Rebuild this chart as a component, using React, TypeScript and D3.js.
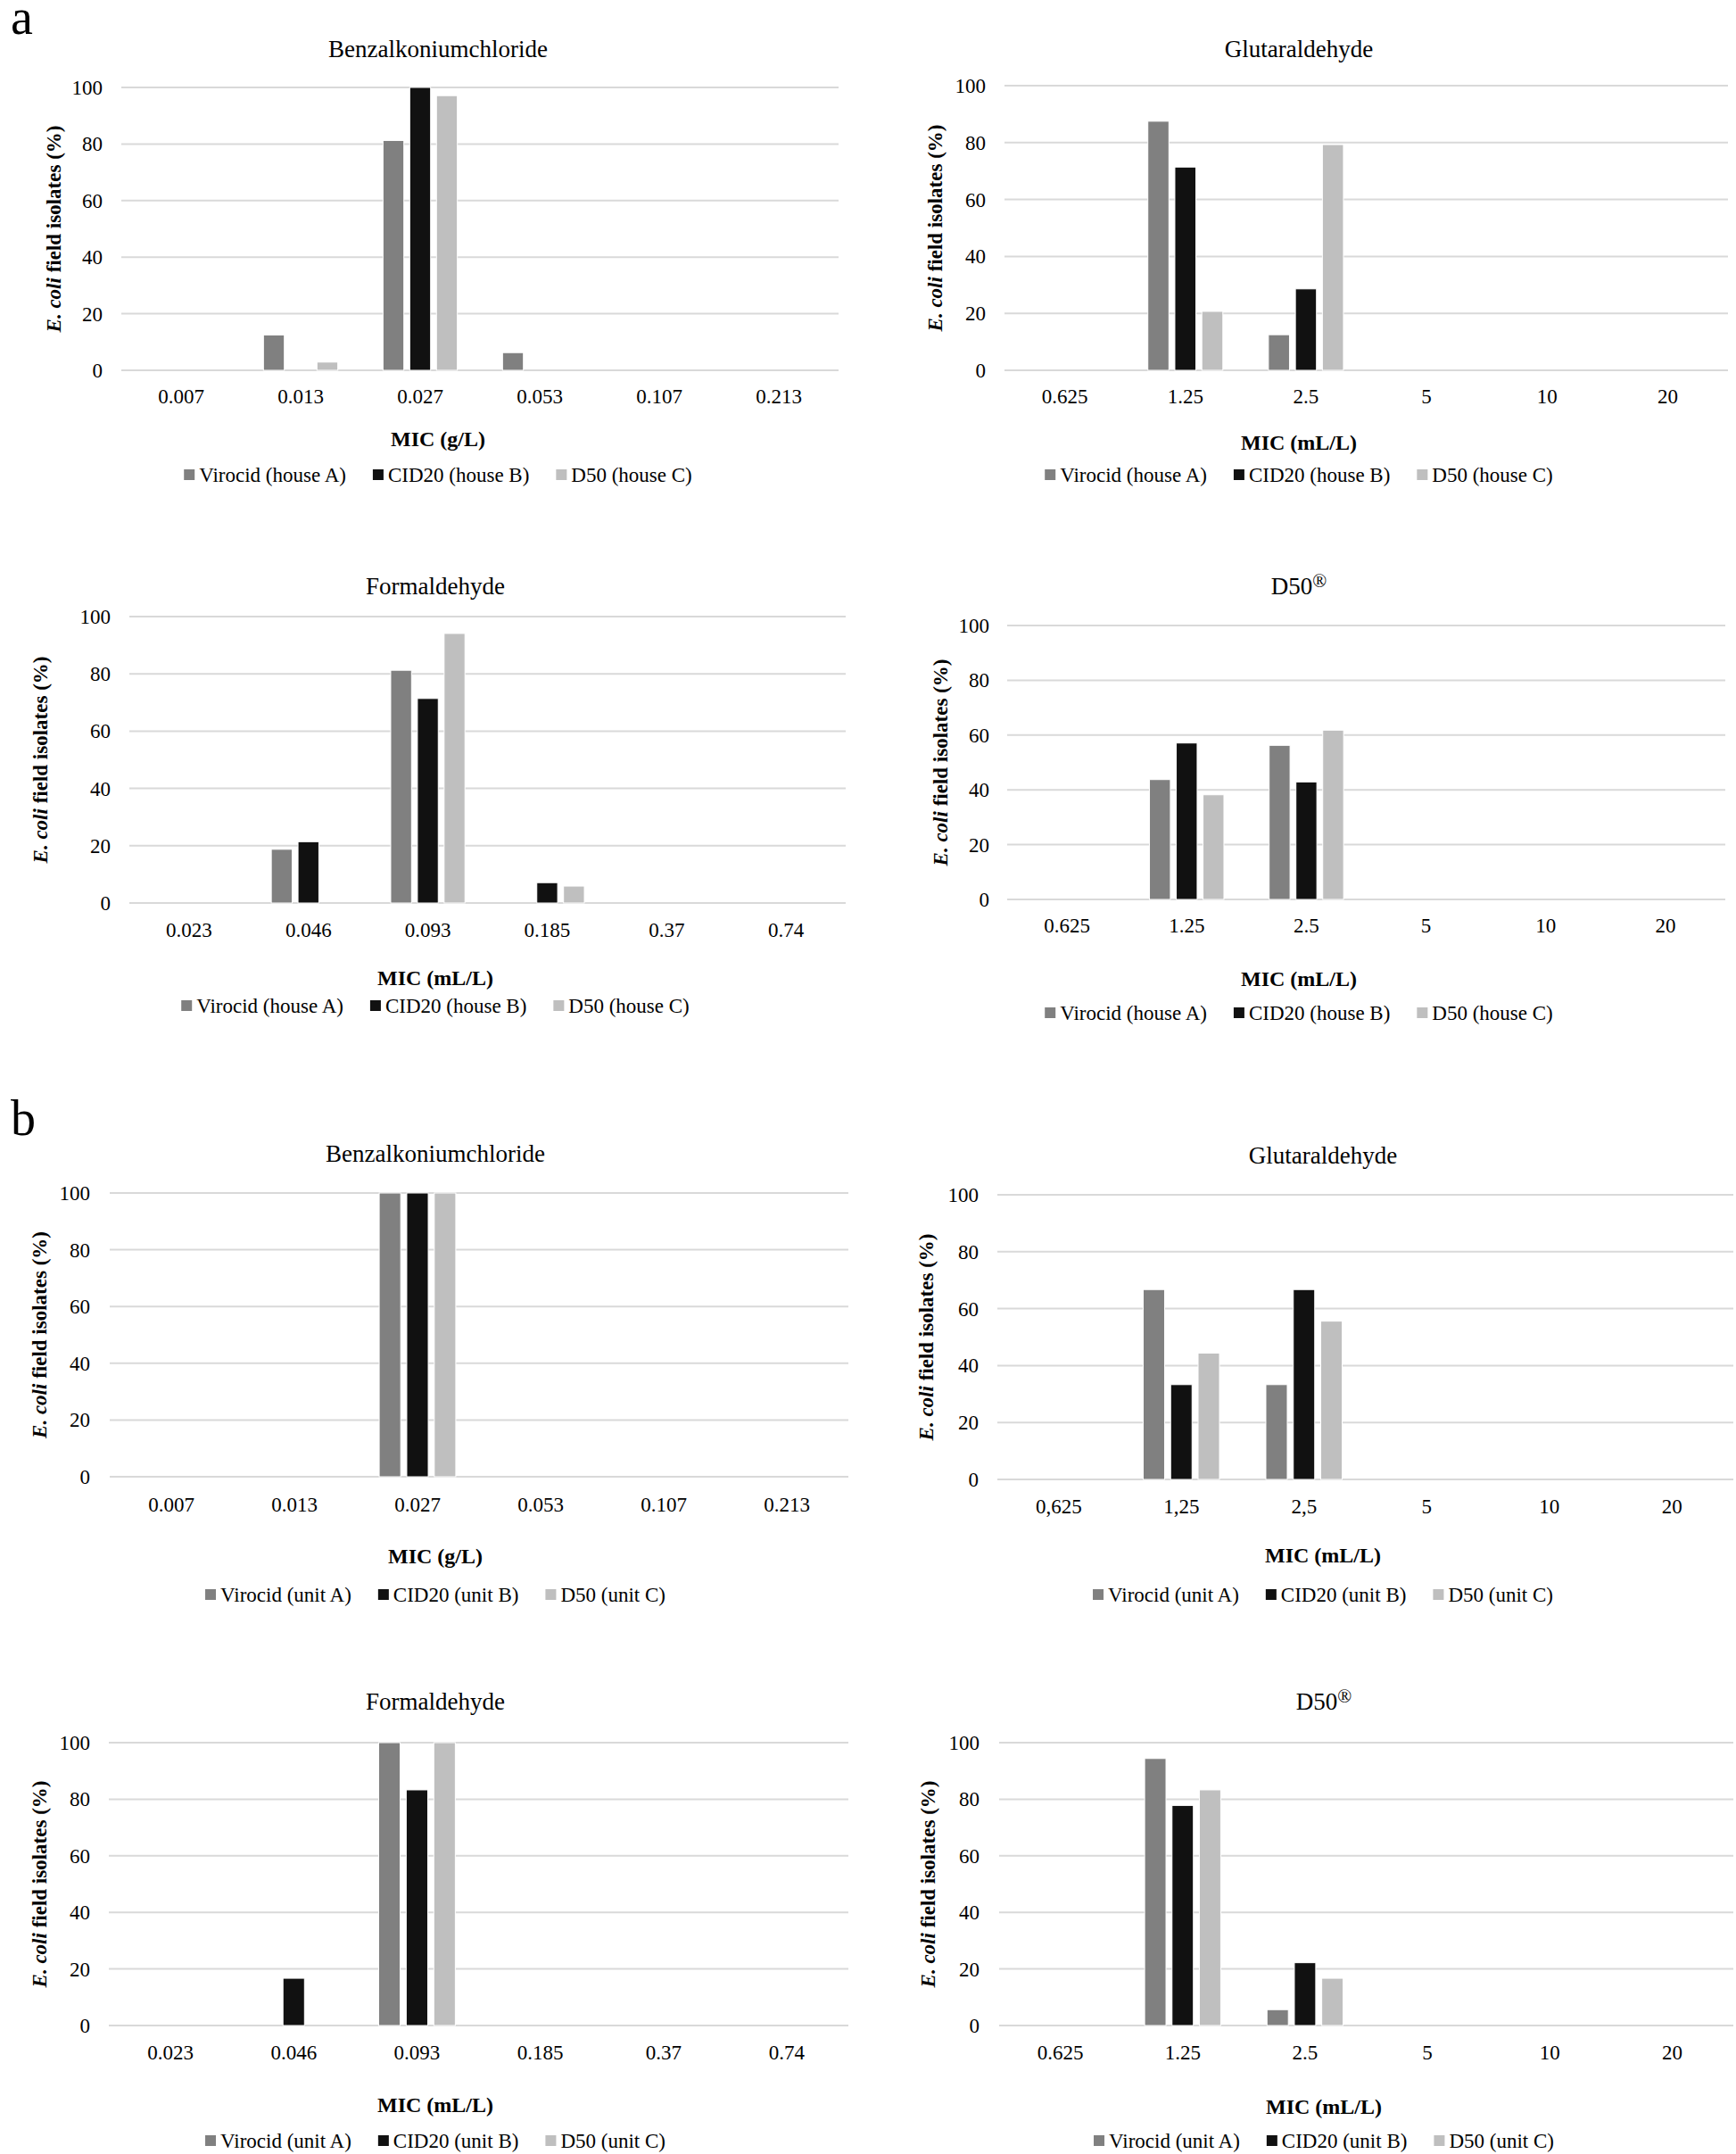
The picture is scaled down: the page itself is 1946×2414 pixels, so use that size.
import React, { useEffect, useRef } from 'react';
import * as d3 from 'd3';

// series names
const houseSeries = ['Virocid (house A)', 'CID20 (house B)', 'D50 (house C)'];
const unitSeries = ['Virocid (unit A)', 'CID20 (unit B)', 'D50 (unit C)'];
const seriesColors = ['#808080', '#111111', '#bfbfbf'];

// MIC categories
const bacMic = ['0.007', '0.013', '0.027', '0.053', '0.107', '0.213'];
const gluMic = ['0.625', '1.25', '2.5', '5', '10', '20'];
const gluMicComma = ['0,625', '1,25', '2,5', '5', '10', '20'];
const forMic = ['0.023', '0.046', '0.093', '0.185', '0.37', '0.74'];
const yTicks = [0, 20, 40, 60, 80, 100];

// (a) houses
const aBacVirocid = [0, 12.5, 81.25, 6.25, 0, 0];
const aBacCid20 = [0, 0, 100, 0, 0, 0];
const aBacD50 = [0, 2.9, 97.1, 0, 0, 0];

const aGluVirocid = [0, 87.5, 12.5, 0, 0, 0];
const aGluCid20 = [0, 71.4, 28.6, 0, 0, 0];
const aGluD50 = [0, 20.7, 79.3, 0, 0, 0];

const aForVirocid = [0, 18.75, 81.25, 0, 0, 0];
const aForCid20 = [0, 21.4, 71.4, 7.1, 0, 0];
const aForD50 = [0, 0, 94.1, 5.9, 0, 0];

const aD50Virocid = [0, 43.75, 56.25, 0, 0, 0];
const aD50Cid20 = [0, 57.1, 42.9, 0, 0, 0];
const aD50D50 = [0, 38.2, 61.8, 0, 0, 0];

// (b) units
const bBacVirocid = [0, 0, 100, 0, 0, 0];
const bBacCid20 = [0, 0, 100, 0, 0, 0];
const bBacD50 = [0, 0, 100, 0, 0, 0];

const bGluVirocid = [0, 66.7, 33.3, 0, 0, 0];
const bGluCid20 = [0, 33.3, 66.7, 0, 0, 0];
const bGluD50 = [0, 44.4, 55.6, 0, 0, 0];

const bForVirocid = [0, 0, 100, 0, 0, 0];
const bForCid20 = [0, 16.7, 83.3, 0, 0, 0];
const bForD50 = [0, 0, 100, 0, 0, 0];

const bD50Virocid = [0, 94.4, 5.6, 0, 0, 0];
const bD50Cid20 = [0, 77.8, 22.2, 0, 0, 0];
const bD50D50 = [0, 83.3, 16.7, 0, 0, 0];

const FONT = '"Liberation Serif", "Times New Roman", serif';

const panels = [
  { title: 'Benzalkoniumchloride', unit: 'MIC (g/L)', cats: bacMic, names: houseSeries, values: [aBacVirocid, aBacCid20, aBacD50],
    left: 136, right: 940, top: 98, bottom: 415, cx: 491, titleY: 55, tickY: 444, xLabelY: 492, legendY: 532, yTitleX: 60, yTickX: 115 },
  { title: 'Glutaraldehyde', unit: 'MIC (mL/L)', cats: gluMic, names: houseSeries, values: [aGluVirocid, aGluCid20, aGluD50],
    left: 1126, right: 1937, top: 96, bottom: 415, cx: 1456, titleY: 55, tickY: 444, xLabelY: 496, legendY: 532, yTitleX: 1048, yTickX: 1105 },
  { title: 'Formaldehyde', unit: 'MIC (mL/L)', cats: forMic, names: houseSeries, values: [aForVirocid, aForCid20, aForD50],
    left: 145, right: 948, top: 691, bottom: 1012, cx: 488, titleY: 657, tickY: 1042, xLabelY: 1096, legendY: 1127, yTitleX: 45, yTickX: 124 },
  { title: 'D50', reg: true, unit: 'MIC (mL/L)', cats: gluMic, names: houseSeries, values: [aD50Virocid, aD50Cid20, aD50D50],
    left: 1129, right: 1934, top: 701, bottom: 1008, cx: 1456, titleY: 657, tickY: 1037, xLabelY: 1097, legendY: 1135, yTitleX: 1054, yTickX: 1109 },
  { title: 'Benzalkoniumchloride', unit: 'MIC (g/L)', cats: bacMic, names: unitSeries, values: [bBacVirocid, bBacCid20, bBacD50],
    left: 123, right: 951, top: 1337, bottom: 1655, cx: 488, titleY: 1293, tickY: 1686, xLabelY: 1744, legendY: 1787, yTitleX: 44, yTickX: 101 },
  { title: 'Glutaraldehyde', unit: 'MIC (mL/L)', cats: gluMicComma, names: unitSeries, values: [bGluVirocid, bGluCid20, bGluD50],
    left: 1118, right: 1943, top: 1339, bottom: 1658, cx: 1483, titleY: 1295, tickY: 1688, xLabelY: 1743, legendY: 1787, yTitleX: 1038, yTickX: 1097 },
  { title: 'Formaldehyde', unit: 'MIC (mL/L)', cats: forMic, names: unitSeries, values: [bForVirocid, bForCid20, bForD50],
    left: 122, right: 951, top: 1953, bottom: 2270, cx: 488, titleY: 1907, tickY: 2300, xLabelY: 2359, legendY: 2399, yTitleX: 44, yTickX: 101 },
  { title: 'D50', reg: true, unit: 'MIC (mL/L)', cats: gluMic, names: unitSeries, values: [bD50Virocid, bD50Cid20, bD50D50],
    left: 1120, right: 1943, top: 1953, bottom: 2270, cx: 1484, titleY: 1907, tickY: 2300, xLabelY: 2361, legendY: 2399, yTitleX: 1040, yTickX: 1098 },
];

const App = () => {
  const svgRef = useRef(null);

  useEffect(() => {
    const svg = d3.select(svgRef.current);
    svg.selectAll('*').remove();

    svg.append('rect').attr('width', 1946).attr('height', 2414).attr('fill', '#fff');

    // panel letters
    svg.append('text').attr('x', 12).attr('y', 38).text('a')
      .style('font-family', FONT).style('font-size', '56px').attr('fill', '#000');
    svg.append('text').attr('x', 12).attr('y', 1272).text('b')
      .style('font-family', FONT).style('font-size', '56px').attr('fill', '#000');

    panels.forEach(p => {
      const g = svg.append('g');

      const x = d3.scaleBand().domain(p.cats).range([p.left, p.right]).paddingInner(0).paddingOuter(0);
      const bw = x.bandwidth();
      const xs = d3.scaleBand().domain(d3.range(p.names.length))
        .range([bw * 0.189, bw * 0.811]).paddingInner(0.22).paddingOuter(0);
      const y = d3.scaleLinear().domain([0, 100]).range([p.bottom, p.top]);

      // gridlines
      g.append('g')
        .selectAll('line')
        .data(yTicks)
        .join('line')
          .attr('x1', p.left)
          .attr('x2', p.right)
          .attr('y1', d => y(d))
          .attr('y2', d => y(d))
          .attr('stroke', '#d9d9d9')
          .attr('stroke-width', 2);

      // y tick labels
      g.append('g')
        .selectAll('text')
        .data(yTicks)
        .join('text')
          .attr('x', p.yTickX)
          .attr('y', d => y(d))
          .attr('dy', '0.35em')
          .attr('text-anchor', 'end')
          .text(d => d)
          .style('font-family', FONT)
          .style('font-size', '23px')
          .attr('fill', '#000');

      // bars
      p.values.forEach((vals, si) => {
        g.append('g')
          .selectAll('rect')
          .data(vals.map((v, i) => ({ cat: p.cats[i], v })).filter(d => d.v > 0))
          .join('rect')
            .attr('x', d => x(d.cat) + xs(si))
            .attr('width', xs.bandwidth())
            .attr('y', d => y(d.v))
            .attr('height', d => y(0) - y(d.v))
            .attr('fill', seriesColors[si])
            .attr('stroke', '#ffffff')
            .attr('stroke-width', 1);
      });

      // x tick labels
      g.append('g')
        .selectAll('text')
        .data(p.cats)
        .join('text')
          .attr('x', d => x(d) + bw / 2)
          .attr('y', p.tickY)
          .attr('dy', '0.35em')
          .attr('text-anchor', 'middle')
          .text(d => d)
          .style('font-family', FONT)
          .style('font-size', '23px')
          .attr('fill', '#000');

      // title
      const t = g.append('text')
        .attr('x', p.cx)
        .attr('y', p.titleY)
        .attr('dy', '0.35em')
        .attr('text-anchor', 'middle')
        .style('font-family', FONT)
        .style('font-size', '27px')
        .attr('fill', '#000');
      t.append('tspan').text(p.title);
      if (p.reg) {
        t.append('tspan').text('®').attr('dy', '-0.4em').style('font-size', '21px');
      }

      // x axis title
      g.append('text')
        .attr('x', p.cx)
        .attr('y', p.xLabelY)
        .attr('dy', '0.35em')
        .attr('text-anchor', 'middle')
        .text(p.unit)
        .style('font-family', FONT)
        .style('font-size', '24px')
        .style('font-weight', 700)
        .attr('fill', '#000');

      // y axis title
      const yt = g.append('text')
        .attr('transform', `translate(${p.yTitleX},${(p.top + p.bottom) / 2}) rotate(-90)`)
        .attr('dy', '0.35em')
        .attr('text-anchor', 'middle')
        .style('font-family', FONT)
        .style('font-size', '23px')
        .style('font-weight', 700)
        .attr('fill', '#000');
      yt.append('tspan').text('E. coli').style('font-style', 'italic');
      yt.append('tspan').text(' field isolates (%)');

      // legend
      const legend = g.append('g');
      let offset = 0;
      p.names.forEach((name, i) => {
        const item = legend.append('g').attr('transform', `translate(${offset},0)`);
        item.append('rect')
          .attr('x', 0)
          .attr('y', -6)
          .attr('width', 12)
          .attr('height', 12)
          .attr('fill', seriesColors[i]);
        const txt = item.append('text')
          .attr('x', 17)
          .attr('y', 0)
          .attr('dy', '0.35em')
          .text(name)
          .style('font-family', FONT)
          .style('font-size', '23px')
          .attr('fill', '#000');
        const w = txt.node().getComputedTextLength();
        offset += 17 + w + (i < p.names.length - 1 ? 30 : 0);
      });
      legend.attr('transform', `translate(${p.cx - offset / 2},${p.legendY})`);
    });
  }, []);

  return (
    <svg
      ref={svgRef}
      width={1946}
      height={2414}
      style={{ position: 'absolute', left: 0, top: 0, display: 'block' }}
    />
  );
};

export default App;
